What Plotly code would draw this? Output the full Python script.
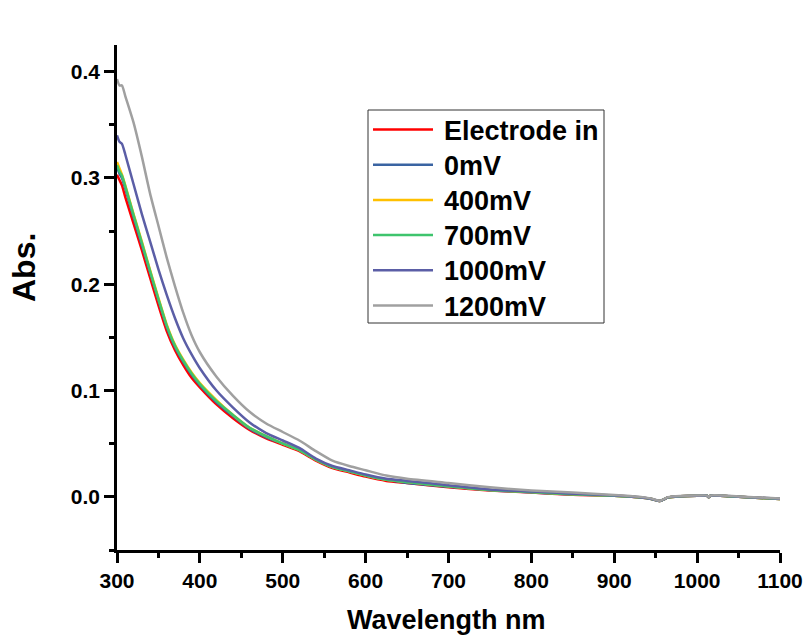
import plotly.graph_objects as go

# Wavelength grid (nm) shared by all spectra
wavelength = [300, 303, 306, 310, 320, 330, 340, 350, 360, 370, 380, 390, 400,
              420, 440, 460, 480, 500, 520, 540, 560, 580, 600, 625, 650, 700,
              750, 800, 850, 900, 930, 945, 955, 965, 980, 1000, 1012, 1014,
              1016, 1050, 1100]

abs_electrode_in = [0.303, 0.298, 0.293, 0.282, 0.257, 0.232, 0.206, 0.180, 0.156,
                    0.138, 0.124, 0.112, 0.103, 0.087, 0.074, 0.063, 0.055, 0.049,
                    0.043, 0.034, 0.027, 0.023, 0.019, 0.015, 0.013, 0.009, 0.006,
                    0.004, 0.002, 0.001, -0.0005, -0.002, -0.004, -0.0005, 0.0005,
                    0.001, 0.001, -0.0005, 0.001, 0.000, -0.002]

abs_0mv = [0.310, 0.304, 0.300, 0.290, 0.263, 0.237, 0.211, 0.185, 0.160, 0.141,
           0.127, 0.115, 0.105, 0.089, 0.076, 0.064, 0.056, 0.050, 0.044, 0.035,
           0.028, 0.024, 0.020, 0.016, 0.013, 0.0095, 0.0062, 0.0042, 0.0022, 0.001,
           -0.0005, -0.002, -0.004, -0.0005, 0.0005, 0.001, 0.001, -0.0005, 0.001,
           0.000, -0.002]

abs_400mv = [0.315, 0.309, 0.303, 0.293, 0.266, 0.240, 0.213, 0.187, 0.162, 0.143,
             0.129, 0.117, 0.107, 0.091, 0.077, 0.065, 0.057, 0.050, 0.044, 0.035,
             0.028, 0.024, 0.020, 0.016, 0.014, 0.010, 0.0065, 0.0045, 0.0025, 0.001,
             -0.0005, -0.002, -0.004, -0.0005, 0.0005, 0.001, 0.001, -0.0005, 0.001,
             0.000, -0.002]

abs_700mv = [0.312, 0.306, 0.302, 0.292, 0.265, 0.239, 0.212, 0.186, 0.161, 0.142,
             0.128, 0.116, 0.106, 0.090, 0.077, 0.065, 0.057, 0.050, 0.044, 0.035,
             0.028, 0.024, 0.020, 0.016, 0.014, 0.010, 0.0065, 0.0045, 0.0025, 0.001,
             -0.0005, -0.002, -0.004, -0.0005, 0.0005, 0.001, 0.001, -0.0005, 0.001,
             0.000, -0.002]

abs_1000mv = [0.340, 0.334, 0.332, 0.322, 0.294, 0.266, 0.240, 0.214, 0.190, 0.168,
              0.149, 0.134, 0.121, 0.100, 0.084, 0.070, 0.060, 0.053, 0.046, 0.036,
              0.029, 0.025, 0.021, 0.017, 0.015, 0.011, 0.007, 0.005, 0.003, 0.0012,
              -0.0003, -0.002, -0.004, -0.0005, 0.0006, 0.001, 0.001, -0.0005, 0.001,
              0.0002, -0.0018]

abs_1200mv = [0.393, 0.387, 0.387, 0.377, 0.352, 0.320, 0.285, 0.255, 0.225, 0.198,
              0.173, 0.152, 0.136, 0.113, 0.095, 0.080, 0.069, 0.061, 0.053, 0.043,
              0.034, 0.029, 0.025, 0.020, 0.017, 0.013, 0.009, 0.006, 0.004, 0.0018,
              0.0000, -0.0017, -0.0038, -0.0003, 0.0008, 0.0012, 0.0012, -0.0003,
              0.0012, 0.0004, -0.0016]

series_names = ["Electrode in", "0mV", "400mV", "700mV", "1000mV", "1200mV"]
series_values = [abs_electrode_in, abs_0mv, abs_400mv, abs_700mv, abs_1000mv, abs_1200mv]
series_colors = ["#ff0000", "#3a64a2", "#ffc000", "#3ec46d", "#5b5ea6", "#a0a0a0"]

FONT = "Liberation Sans, Arial, sans-serif"

W, H = 807, 635
M_L, M_R, M_T, M_B = 117, 27, 45, 85
PW, PH = W - M_L - M_R, H - M_T - M_B


def px_x(px):
    """Pixel column -> paper x."""
    return (px - M_L) / PW


def px_y(py):
    """Pixel row -> paper y."""
    return (H - M_B - py) / PH


fig = go.Figure()
for name, vals, color in zip(series_names, series_values, series_colors):
    fig.add_trace(go.Scatter(
        x=wavelength, y=vals, name=name, mode="lines", showlegend=False,
        line=dict(color=color, width=2.5, shape="spline", smoothing=0.6),
    ))

axis_common = dict(
    showline=True, linecolor="black", linewidth=2.5, mirror=False,
    showgrid=False, zeroline=False, automargin=False,
    ticks="outside", ticklen=10, tickwidth=2.5, tickcolor="black",
    tickfont=dict(family=FONT, size=21, color="black", weight="bold"),
)

# Legend drawn as a boxed key inside the plot
legend_left, legend_right = 368, 604
legend_top, legend_bottom = 110, 323
row0, row_step = 129.5, 35.2
shapes = [dict(type="rect", xref="paper", yref="paper",
               x0=px_x(legend_left), x1=px_x(legend_right),
               y0=px_y(legend_bottom), y1=px_y(legend_top),
               line=dict(color="#333333", width=1), fillcolor="white", layer="above")]
annotations = []
for i, (name, color) in enumerate(zip(series_names, series_colors)):
    ry = row0 + i * row_step
    shapes.append(dict(type="line", xref="paper", yref="paper",
                       x0=px_x(373), x1=px_x(433), y0=px_y(ry), y1=px_y(ry),
                       line=dict(color=color, width=2.5), layer="above"))
    annotations.append(dict(text=name, xref="paper", yref="paper",
                            x=px_x(442), y=px_y(ry + 1), xanchor="left", yanchor="middle",
                            showarrow=False,
                            font=dict(family=FONT, size=27, color="black", weight="bold")))

annotations += [
    dict(text="Wavelength nm", xref="paper", yref="paper", x=px_x(446), y=px_y(620),
         xanchor="center", yanchor="middle", showarrow=False,
         font=dict(family=FONT, size=27, color="black", weight="bold")),
    dict(text="Abs.", xref="paper", yref="paper", x=px_x(24), y=px_y(268),
         xanchor="center", yanchor="middle", showarrow=False, textangle=-90,
         font=dict(family=FONT, size=32, color="black", weight="bold")),
]

fig.update_layout(
    template="none",
    width=W, height=H,
    margin=dict(l=M_L, r=M_R, t=M_T, b=M_B),
    plot_bgcolor="white", paper_bgcolor="white",
    showlegend=False,
    xaxis=dict(range=[300, 1100], tick0=300, dtick=100,
               minor=dict(dtick=50, ticks="outside", ticklen=5, tickwidth=2.5,
                          tickcolor="black", showgrid=False),
               **axis_common),
    yaxis=dict(range=[-0.05, 0.425], tick0=0, dtick=0.1, tickformat=".1f",
               minor=dict(dtick=0.05, ticks="outside", ticklen=5, tickwidth=2.5,
                          tickcolor="black", showgrid=False),
               **axis_common),
    shapes=shapes,
    annotations=annotations,
)

fig.write_html("out.html")
